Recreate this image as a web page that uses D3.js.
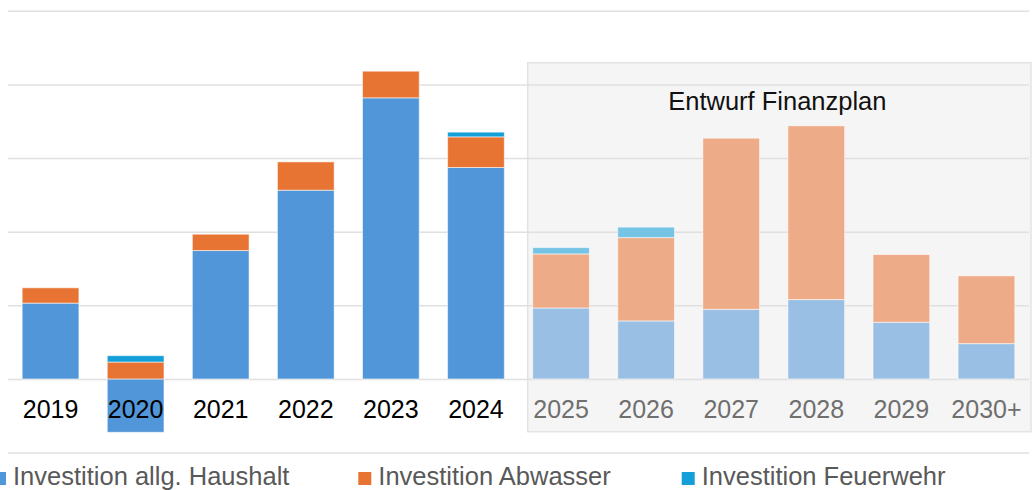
<!DOCTYPE html>
<html>
<head>
<meta charset="utf-8">
<script src="https://cdn.jsdelivr.net/npm/d3@7"></script>
<style>
  html, body { margin: 0; padding: 0; background: #fff; }
  svg { display: block; font-family: "Liberation Sans", Arial, Helvetica, sans-serif; }
</style>
</head>
<body>
<svg id="chart" width="1033" height="490"></svg>
<script>
// ---- data ----
const categories = ["2019", "2020", "2021", "2022", "2023", "2024", "2025", "2026", "2027", "2028", "2029", "2030+"];
const haushalt  = [5.15, -3.62, 8.72, 12.82, 19.09, 14.36, 4.82, 3.94, 4.73, 5.39, 3.85, 2.40];
const abwasser  = [1.04, 1.15, 1.11, 1.92, 1.81, 2.08, 3.67, 5.66, 11.62, 11.80, 4.60, 4.60];
const feuerwehr = [0.00, 0.43, 0.00, 0.00, 0.00, 0.32, 0.43, 0.71, 0.00, 0.00, 0.00, 0.00];
const seriesNames = ["Investition allg. Haushalt", "Investition Abwasser", "Investition Feuerwehr"];
const gridTicks = [-5, 0, 5, 10, 15, 20, 25];
const forecastStart = "2025";
const forecastLabel = "Entwurf Finanzplan";

// ---- styling ----
const colors      = ["#5096d9", "#e87434", "#149fd8"];
const colorsLight = ["#9abfe4", "#eeab88", "#75c4e3"];
const keys = ["haushalt", "abwasser", "feuerwehr"];

const table = categories.map((c, i) => ({
  cat: c, haushalt: haushalt[i], abwasser: abwasser[i], feuerwehr: feuerwehr[i]
}));
const forecastIdx = categories.indexOf(forecastStart);

const svg = d3.select("#chart");

const x = d3.scaleBand().domain(categories).range([8, 1029]).paddingInner(1/3).paddingOuter(1/6);
const y = d3.scaleLinear().domain([-5, 25]).range([452.6, 10.8]);

// forecast box
const boxX0 = x(forecastStart) - 5;
svg.append("rect")
  .attr("x", boxX0).attr("y", 62.7)
  .attr("width", 1031 - boxX0).attr("height", 431.7 - 62.7)
  .attr("fill", "#f5f5f5").attr("stroke", "#e3e3e3").attr("stroke-width", 1.5);

// gridlines
const grid = svg.append("g").attr("transform", "translate(8,0)")
  .call(d3.axisLeft(y).tickValues(gridTicks).tickSize(-(1029 - 8)).tickFormat(""));
grid.select(".domain").remove();
grid.selectAll(".tick line").attr("stroke", "#e0e0e0").attr("stroke-width", 1.5);

// stacked bars
const stack = d3.stack().keys(keys).offset(d3.stackOffsetDiverging);
const layers = stack(table);

svg.append("g").selectAll("g").data(layers).join("g")
  .each(function(layer, li) {
    d3.select(this).selectAll("rect").data(layer).join("rect")
      .filter(d => d[1] - d[0] !== 0)
      .attr("x", d => x(d.data.cat))
      .attr("width", x.bandwidth())
      .attr("y", d => y(Math.max(d[0], d[1])))
      .attr("height", d => Math.abs(y(d[0]) - y(d[1])))
      .attr("fill", d => categories.indexOf(d.data.cat) >= forecastIdx ? colorsLight[li] : colors[li])
      .attr("stroke", "rgba(255,255,255,0.55)")
      .attr("stroke-width", 1);
  });

// category axis
const xAxis = svg.append("g").attr("transform", `translate(0,${y(0)})`)
  .call(d3.axisBottom(x).tickSize(0).tickPadding(21.5));
xAxis.select(".domain").remove();
xAxis.selectAll(".tick text")
  .attr("font-size", 25)
  .attr("font-family", "'Liberation Sans', Arial, sans-serif")
  .attr("fill", d => categories.indexOf(d) >= forecastIdx ? "#6f6f6f" : "#000");

// forecast title
svg.append("text")
  .attr("x", (boxX0 + 1031) / 2 - 2)
  .attr("y", 110)
  .attr("text-anchor", "middle")
  .attr("font-size", 25.5)
  .attr("fill", "#111")
  .text(forecastLabel);

// legend
const legendX = [-7, 358.3, 681.7];
const lg = svg.append("g").selectAll("g").data(seriesNames).join("g")
  .attr("transform", (d, i) => `translate(${legendX[i]},472)`);
lg.append("rect").attr("width", 13).attr("height", 13).attr("fill", (d, i) => colors[i]);
lg.append("text").attr("x", 20).attr("y", 13)
  .attr("font-size", 25.5).attr("fill", "#595959").text(d => d);
</script>
</body>
</html>
